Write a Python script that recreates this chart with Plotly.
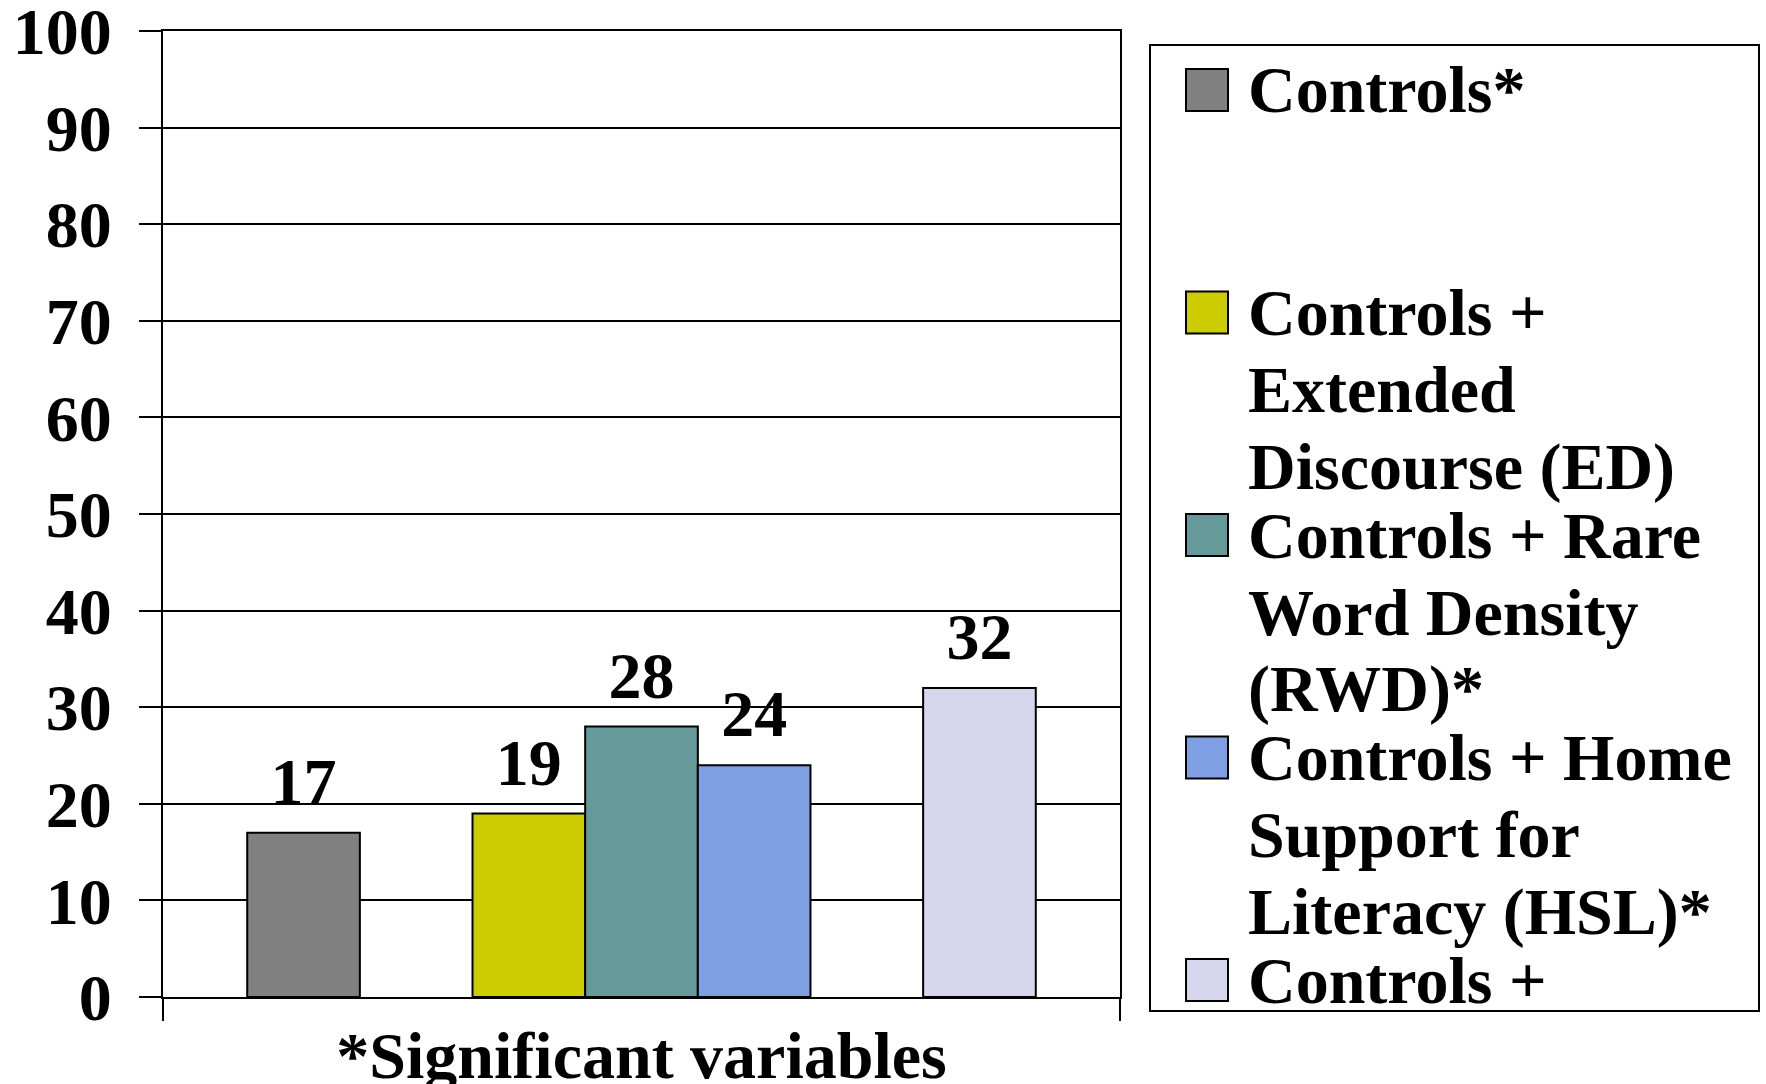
import plotly.graph_objects as go

# ---------------- data ----------------
category = ["*Significant variables"]
series_names = [
    "Controls*",
    "",
    "Controls + Extended Discourse (ED)",
    "Controls + Rare Word Density (RWD)*",
    "Controls + Home Support for Literacy (HSL)*",
    "",
    "Controls +",
]
series_values = [17, None, 19, 28, 24, None, 32]
series_colors = ["#808080", "#FFFFFF", "#CCCC00", "#669999", "#7F9FE5", "#FFFFFF", "#D6D7EC"]

legend_entries = [
    ("#808080", ["Controls*"]),
    ("#CCCC00", ["Controls +", "Extended", "Discourse (ED)"]),
    ("#669999", ["Controls + Rare", "Word Density", "(RWD)*"]),
    ("#7F9FE5", ["Controls + Home", "Support for", "Literacy (HSL)*"]),
    ("#D6D7EC", ["Controls +"]),
]

y_ticks = [0, 10, 20, 30, 40, 50, 60, 70, 80, 90, 100]

# ---------------- layout constants ----------------
W, H = 1766, 1084
ML, MR, MT, MB = 163, 646, 31, 87
PW = W - ML - MR
PH = H - MT - MB
FONT = "Liberation Serif"
FS = 66
GAP = 0.176


def px(x):
    return (x - ML) / PW


def py(y):
    return (MT + PH - y) / PH


fig = go.Figure()
for name, val, col in zip(series_names, series_values, series_colors):
    visible_bar = val is not None
    fig.add_trace(
        go.Bar(
            x=category,
            y=[val],
            name=name,
            marker=dict(
                color=col,
                line=dict(color="black" if visible_bar else "rgba(0,0,0,0)", width=2),
            ),
            showlegend=False,
            hoverinfo="skip" if not visible_bar else None,
        )
    )

# value labels, grouped the same way as the bars
for name, val in zip(series_names, series_values):
    visible_bar = val is not None
    fig.add_trace(
        go.Scatter(
            x=category,
            y=[val],
            mode="markers+text",
            text=[str(val)] if visible_bar else [""],
            textposition="top center",
            textfont=dict(family=FONT, size=FS, color="black", weight="bold"),
            marker=dict(size=18, color="rgba(0,0,0,0)"),
            cliponaxis=False,
            showlegend=False,
            hoverinfo="skip",
        )
    )

shapes = []
annotations = []

# legend box
shapes.append(
    dict(
        type="rect", xref="paper", yref="paper",
        x0=px(1150), x1=px(1759), y0=py(1011), y1=py(45),
        line=dict(color="black", width=2), fillcolor="white", layer="above",
    )
)
entry_c0 = 90
entry_pitch = 222.5
line_pitch = 77
for k, (col, lines) in enumerate(legend_entries):
    c = entry_c0 + k * entry_pitch
    shapes.append(
        dict(
            type="rect", xref="paper", yref="paper",
            x0=px(1186), x1=px(1228), y0=py(c + 21), y1=py(c - 21),
            line=dict(color="black", width=2), fillcolor=col, layer="above",
        )
    )
    for j, txt in enumerate(lines):
        annotations.append(
            dict(
                xref="paper", yref="paper",
                x=px(1246), y=py(c + j * line_pitch),
                xanchor="left", yanchor="middle",
                text=txt, showarrow=False,
                font=dict(family=FONT, size=FS, color="black", weight="bold"),
            )
        )

fig.update_layout(
    width=W,
    height=H,
    margin=dict(l=ML, r=MR, t=MT, b=MB, autoexpand=False),
    paper_bgcolor="white",
    plot_bgcolor="white",
    barmode="group",
    bargap=GAP,
    bargroupgap=0,
    scattermode="group",
    scattergap=GAP,
    showlegend=False,
    shapes=shapes,
    annotations=annotations,
    font=dict(family=FONT, size=FS, color="black", weight="bold"),
)

fig.update_xaxes(
    type="category",
    automargin=False,
    showline=True, linecolor="black", linewidth=2, mirror=True,
    showgrid=False,
    ticks="outside", tickson="boundaries", ticklen=22, tickwidth=2, tickcolor="black",
    tickfont=dict(family=FONT, size=FS, color="black", weight="bold"),
    ticklabelstandoff=0,
    ticklabeloverflow="allow",
)
fig.update_yaxes(
    range=[0, 100],
    automargin=False,
    tickvals=y_ticks,
    ticktext=[str(v) for v in y_ticks],
    showline=True, linecolor="black", linewidth=2, mirror=True,
    showgrid=True, gridcolor="black", gridwidth=2,
    zeroline=False,
    ticks="outside", ticklen=22, tickwidth=2, tickcolor="black",
    tickfont=dict(family=FONT, size=FS, color="black", weight="bold"),
    ticklabelstandoff=14,
    ticklabeloverflow="allow",
)

fig.write_html(
    "out.html",
    config={"displayModeBar": False},
    post_script="document.body.style.margin='0';document.body.style.overflow='hidden';",
)
